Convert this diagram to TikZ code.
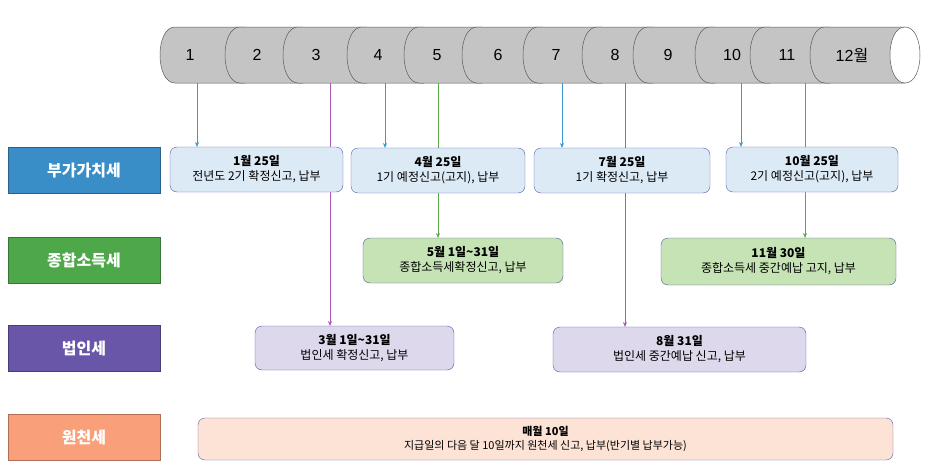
\documentclass[tikz,border=0pt]{standalone}
\usepackage{fontspec}
\setmainfont{Noto Sans CJK KR}
\newfontfamily\numf{Liberation Sans}
\usetikzlibrary{arrows.meta}
\definecolor{cylf}{HTML}{C4C4C4}
\definecolor{cyld}{HTML}{5A5A5A}
\definecolor{catb}{HTML}{3A8EC8}
\definecolor{catg}{HTML}{4EA84A}
\definecolor{catp}{HTML}{6A56A8}
\definecolor{cato}{HTML}{F9A07A}
\definecolor{bxb}{HTML}{DCEAF6}
\definecolor{bxg}{HTML}{C6E3B5}
\definecolor{bxp}{HTML}{DDD8EB}
\definecolor{bxo}{HTML}{FCE3D6}
\definecolor{lnb}{HTML}{3A9AD0}
\definecolor{lng}{HTML}{5BA84A}
\definecolor{lnp}{HTML}{B05AB8}
\begin{document}
\begin{tikzpicture}[x=1pt,y=-1pt,
  cat/.style={draw=#1!70!black,fill=#1,text=white,minimum width=152pt,minimum height=46pt,font=\fontsize{16}{18}\selectfont\bfseries,inner sep=0pt},
  bx/.style={draw=#1!55!black!70!blue,fill=#1,rounded corners=7pt,align=center,inner sep=0pt,font=\fontsize{12}{15}\selectfont},
  ln/.style={#1,line width=0.7pt},
  ar/.style={#1,line width=0.7pt,-{Stealth[length=5pt,width=4pt]}},
  num/.style={font=\numf\fontsize{16}{18}\selectfont}]
\useasboundingbox (0,0) rectangle (927,474);
% cylinder
\def\yt{27}\def\yb{83}
\foreach \x/\nx [count=\i] in {160/225,225/283,283/347,347/404,404/462,462/523,523/582,582/633,633/695,695/750,750/810,810/885}{
  \fill[cylf] (\x+15,\yt) .. controls (\x-5,\yt) and (\x-5,\yb) .. (\x+15,\yb) -- (\nx+20,\yb) -- (\nx+20,\yt) -- cycle;
  \draw[cyld,line width=0.5pt] (\nx+20,\yt) -- (\x+15,\yt) .. controls (\x-5,\yt) and (\x-5,\yb) .. (\x+15,\yb) -- (\nx+20,\yb);
}
\draw[cyld,fill=white,line width=0.5pt] (905,\yt) .. controls (885,\yt) and (885,\yb) .. (905,\yb) .. controls (925,\yb) and (925,\yt) .. cycle;
\foreach \c/\t [count=\i] in {190/1,257/2,316/3,378/4,437/5,498/6,556/7,615/8,668/9,732/10,787/11}
  \node[num] (m\i) at (\c,55) {\t};
\node[num] (m12) at (852,55) {12\fontspec{Noto Sans CJK KR}월};
% anchor coordinates
\foreach \n/\x in {a/197,b/330,c/385,d/438,e/562,f/625,g/741,h/805} \coordinate (t\n) at (\x,\yb);
% categories
\node[cat=catb] (c1) at (84,170) {부가가치세};
\node[cat=catg] (c2) at (84,260) {종합소득세};
\node[cat=catp] (c3) at (84,348) {법인세};
\node[cat=cato] (c4) at (84,437) {원천세};
% connectors
\draw[ar=lnb] (ta) -- (ta |- 0,147);
\draw[ar=lnb] (tc) -- (tc |- 0,148);
\draw[ar=lnb] (te) -- (te |- 0,148);
\draw[ar=lnb] (tg) -- (tg |- 0,147);
\draw[ln=lng] (td) -- (td |- 0,160);
\draw[ar=lng] (td |- 0,180) -- (td |- 0,238);
\draw[ln=lng] (th) -- (th |- 0,160);
\draw[ar=lng] (th |- 0,180) -- (th |- 0,238);
\draw[ar=lnp] (tb) -- (tb |- 0,326);
\draw[ar=lnp] (tf) -- (tf |- 0,327);
% boxes
\node[bx=bxb,minimum width=173pt,minimum height=45pt] (b1) at (256.5,169.5) {\textbf{1월 25일}\\전년도 2기 확정신고, 납부};
\node[bx=bxb,minimum width=174pt,minimum height=45pt] (b4) at (438,170.5) {\textbf{4월 25일}\\1기 예정신고(고지), 납부};
\node[bx=bxb,minimum width=176pt,minimum height=45pt] (b7) at (622,170.5) {\textbf{7월 25일}\\1기 확정신고, 납부};
\node[bx=bxb,minimum width=172pt,minimum height=45pt] (b10) at (812,169.5) {\textbf{10월 25일}\\2기 예정신고(고지), 납부};
\node[bx=bxg,minimum width=200pt,minimum height=45pt] (b5) at (463,260.5) {\textbf{5월 1일\textasciitilde31일}\\종합소득세확정신고, 납부};
\node[bx=bxg,minimum width=235pt,minimum height=47pt] (b11) at (778.5,261.5) {\textbf{11월 30일}\\종합소득세 중간예납 고지, 납부};
\node[bx=bxp,minimum width=199pt,minimum height=44pt] (b3) at (354.5,348) {\textbf{3월 1일\textasciitilde31일}\\법인세 확정신고, 납부};
\node[bx=bxp,minimum width=253pt,minimum height=45pt] (b8) at (679.5,349.5) {\textbf{8월 31일}\\법인세 중간예납 신고, 납부};
\node[bx=bxo,minimum width=695pt,minimum height=42pt,font=\fontsize{11}{14}\selectfont] (b12) at (545.5,439) {\textbf{매월 10일}\\지급일의 다음 달 10일까지 원천세 신고, 납부(반기별 납부가능)};
\end{tikzpicture}
\end{document}
